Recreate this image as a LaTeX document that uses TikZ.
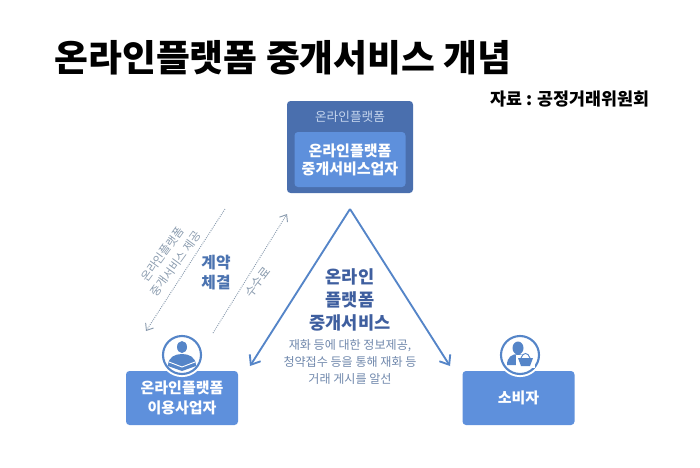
\documentclass[tikz,border=0pt]{standalone}
\usepackage{fontspec}
\setmainfont{Noto Sans CJK KR}
\usetikzlibrary{arrows.meta}
\definecolor{topblue}{HTML}{4A6FAE}
\definecolor{boxblue}{HTML}{5E90DC}
\definecolor{lineblue}{HTML}{5585C8}
\definecolor{headblue}{HTML}{3F5F9F}
\definecolor{smallgray}{HTML}{7088AC}
\definecolor{dotgray}{HTML}{8A9BAE}
\definecolor{paleblue}{HTML}{C5D5EE}
\newcommand{\iconR}{19}
\newcommand{\fsz}[2]{\fontsize{#1}{#2}\selectfont}
\tikzset{
  bluebox/.style={fill=boxblue, rounded corners=3, align=center, text=white, font=\fsz{12.8}{15.5}\bfseries, inner sep=0},
  dotline/.style={dotgray, densely dotted, thick, -{Straight Barb[length=5pt,width=8pt]}},
  mainline/.style={lineblue, line width=1.6pt, -{Straight Barb[length=7pt,width=11pt]}},
  iconring/.style={color=lineblue, fill=white, line width=1.8pt},
}
\begin{document}
\begin{tikzpicture}[x=0.03cm, y=-0.03cm]
\useasboundingbox (0,0) rectangle (700,467);

\node at (283,58) (title) {\fsz{31.4}{36}\bfseries 온라인플랫폼 중개서비스 개념};
\node at (570,99) (source) {\fsz{14.8}{18}\bfseries 자료 : 공정거래위원회};

% top box
\node[bluebox, fill=topblue, minimum width=126*0.03cm, minimum height=92*0.03cm] at (350,147) (platform) {};
\node[text=paleblue, font=\fsz{10.8}{13}] at (350,117) (platformname) {온라인플랫폼};
\node[bluebox, minimum width=111*0.03cm, minimum height=55*0.03cm] at (350,159.5) (broker) {온라인플랫폼\\중개서비스업자};

% bottom boxes
\node[bluebox, minimum width=112*0.03cm, minimum height=54*0.03cm, font=\fsz{12.8}{17.5}\bfseries] at (182,398) (seller) {온라인플랫폼\\이용사업자};
\node[bluebox, minimum width=112*0.03cm, minimum height=54*0.03cm] at (518.5,398) (consumer) {소비자};

% seller icon
\draw[white, line width=3.5pt] (182,355) circle (\iconR+1);
\filldraw[iconring] (182,355) circle (\iconR);
\fill[lineblue] (182,347) ellipse (5 and 6);
\fill[lineblue] (168,366) .. controls (168,357) and (175,354) .. (182,354) .. controls (189,354) and (196,357) .. (196,366) -- (182,371) -- cycle;
\draw[white, line width=0.8pt] (169,362) -- (182,367) -- (195,362);

% consumer icon
\draw[white, line width=3.5pt] (520,355) circle (\iconR+1);
\filldraw[iconring] (520,355) circle (\iconR);
\fill[lineblue] (518,348) ellipse (5.5 and 6.5);
\fill[lineblue] (507,365) .. controls (507,357) and (512,354) .. (518,354) .. controls (521,354) and (523,355) .. (525,356) -- (520,365) -- cycle;
\fill[white] (516,355) rectangle (535,368);
\fill[lineblue] (518,358) -- (533,358) -- (530,366) -- (521,366) -- cycle;
\draw[lineblue, line width=0.8pt] (521,358) .. controls (523,352) and (528,352) .. (530,358);

% arrows
\coordinate (apex) at (350,209);
\coordinate (tipL) at (250,366);
\coordinate (tipR) at (450,366);
\coordinate (contractA) at (225,209);
\coordinate (contractB) at (146,331);
\coordinate (feeA) at (213,333);
\coordinate (feeB) at (287,214);
\draw[mainline] (apex) -- (tipL);
\draw[mainline] (apex) -- (tipR);
\draw[dotline] (contractA) -- (contractB);
\draw[dotline] (feeA) -- (feeB);

\node[rotate=54, align=center, text=dotgray, font=\fsz{9.8}{14}] at (169,259) (service) {온라인플랫폼\\중개서비스 제공};
\node[rotate=52, text=dotgray, font=\fsz{10.5}{13}] at (258,282) (fee) {수수료};
\node[align=center, text=boxblue!80!black, font=\fsz{13.5}{17}\bfseries] at (216,273) (contract) {계약\\체결};

\node[align=center, text=headblue, font=\fsz{15}{19.5}\bfseries] at (350,300) (brokering) {온라인\\플랫폼\\중개서비스};
\node[align=center, text=smallgray, font=\fsz{10.3}{14.5}] at (350,362) (detail) {재화 등에 대한 정보제공,\\청약접수 등을 통해 재화 등\\거래 게시를 알선};

\end{tikzpicture}
\end{document}
